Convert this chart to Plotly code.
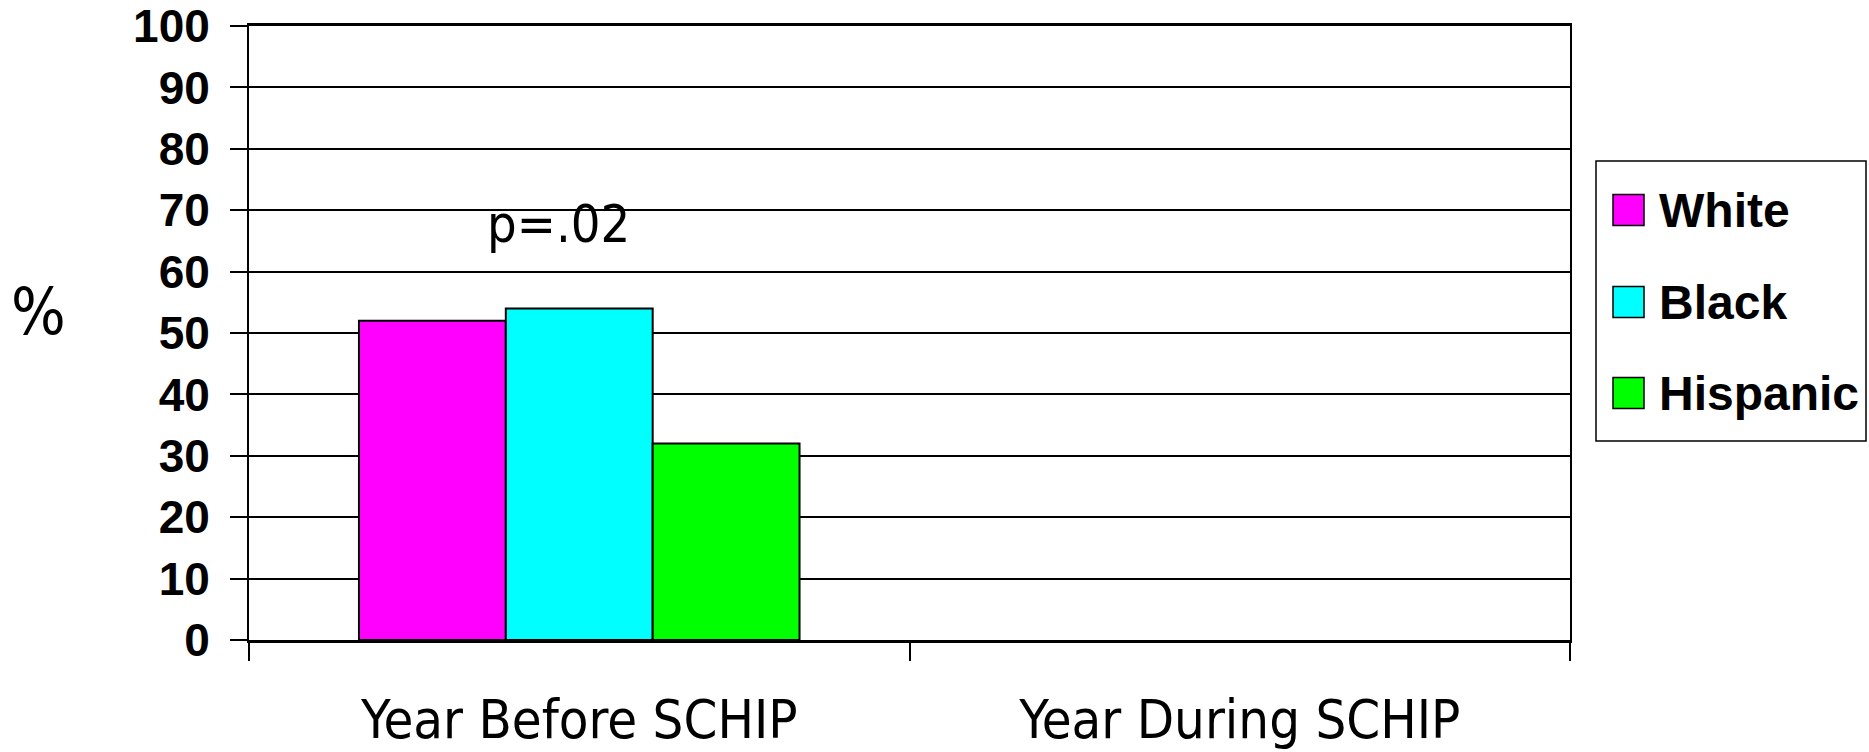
import plotly.graph_objects as go

# ---- data ----
categories = ["Year Before SCHIP", "Year During SCHIP"]
series_names = ["White", "Black", "Hispanic"]
white = [52, None]
black = [54, None]
hispanic = [32, None]
series_values = [white, black, hispanic]
colors = ["#FF00FF", "#00FFFF", "#00FF00"]
y_ticks = [0, 10, 20, 30, 40, 50, 60, 70, 80, 90, 100]
p_label = "p=.02"
p_y = 67.8
y_title = "%"

# body margin is removed by post_script, so figure fills the page
W, H = 1869, 752
PL, PR, PT, PB = 249, 1570, 26, 640          # plot area in page pixels
ML, MT = PL, PT
MR, MB = W - PR, H - PB
PW, PH = PR - PL, PB - PT

def px_x(px):
    return (px - PL) / PW

def px_y(py):
    return (PB - py) / PH

COND = "DejaVu Sans Condensed, Liberation Sans Narrow, DejaVu Sans"
BOLD = "Liberation Sans, Arial, sans-serif"

fig = go.Figure()
for name, vals, col in zip(series_names, series_values, colors):
    fig.add_trace(go.Bar(
        name=name, x=categories, y=vals,
        marker=dict(color=col, line=dict(color="black", width=2)),
        showlegend=False,
    ))

fig.update_layout(
    width=W, height=H,
    margin=dict(l=ML, r=MR, t=MT, b=MB, pad=0, autoexpand=False),
    paper_bgcolor="white", plot_bgcolor="white",
    barmode="group", bargap=0.333, bargroupgap=0,
    showlegend=False,
)
fig.update_xaxes(
    type="category", range=[-0.5, 1.5], automargin=False,
    showline=True, linecolor="black", linewidth=2.5, mirror=True,
    ticks="outside", tickson="boundaries", ticklen=18, tickwidth=2, tickcolor="black",
    tickfont=dict(family=COND, size=54, color="black"),
    ticklabelstandoff=30, ticklabeloverflow="allow",
    showgrid=False,
)
fig.update_yaxes(
    range=[0, 100], tickvals=y_ticks, automargin=False,
    showline=True, linecolor="black", linewidth=2, mirror=True,
    ticks="outside", ticklen=17, tickwidth=2, tickcolor="black",
    tickfont=dict(family=BOLD, size=46, color="black", weight="bold"),
    ticklabelstandoff=11, ticklabeloverflow="allow",
    showgrid=True, gridcolor="black", gridwidth=1.6,
    zeroline=False,
)

annotations = [
    dict(text=p_label, x=categories[0], y=p_y, xref="x", yref="y",
         xshift=-21, showarrow=False, xanchor="center", yanchor="middle",
         font=dict(family=COND, size=52, color="black")),
    dict(text=y_title, x=px_x(38), y=px_y(312), xref="paper", yref="paper",
         showarrow=False, xanchor="center", yanchor="middle",
         font=dict(family=COND, size=64, color="black")),
]

# legend box (manual, to match large swatches)
shapes = [dict(type="rect", xref="paper", yref="paper",
               x0=px_x(1596), x1=px_x(1866), y0=px_y(441), y1=px_y(161),
               line=dict(color="black", width=1.5), fillcolor="white")]
row_centers = [210, 302, 393]
for name, col, cy in zip(series_names, colors, row_centers):
    shapes.append(dict(type="rect", xref="paper", yref="paper",
                       x0=px_x(1613), x1=px_x(1644), y0=px_y(cy + 15.5), y1=px_y(cy - 15.5),
                       line=dict(color="black", width=1.5), fillcolor=col))
    annotations.append(dict(text="<b>%s</b>" % name, x=px_x(1657), y=px_y(cy),
                            xref="paper", yref="paper", showarrow=False,
                            xanchor="left", yanchor="middle",
                            font=dict(family=BOLD, size=48, color="black")))

fig.update_layout(shapes=shapes, annotations=annotations)
fig.write_html(
    "out.html",
    config={"displayModeBar": False},
    post_script="document.body.style.margin='0';document.body.style.overflow='hidden';",
)
